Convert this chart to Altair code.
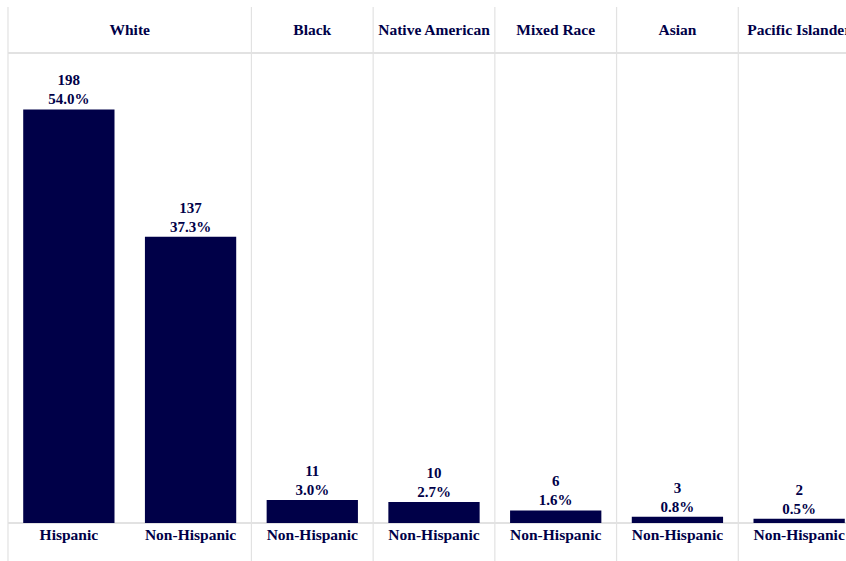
import altair as alt
import pandas as pd

races = ["White", "White", "Black", "Native American", "Mixed Race", "Asian", "Pacific Islander"]
ethnicities = ["Hispanic", "Non-Hispanic", "Non-Hispanic", "Non-Hispanic", "Non-Hispanic", "Non-Hispanic", "Non-Hispanic"]
counts = [198, 137, 11, 10, 6, 3, 2]
pct_labels = ["54.0%", "37.3%", "3.0%", "2.7%", "1.6%", "0.8%", "0.5%"]

NAVY = "#000048"
GRID = "#e2e2e2"
FONT = "Liberation Serif"

W_RANGE = 852  # full width of the 7 slots (last one runs past the window)
PLOT_W = 838
PLOT_H = 470

keys = [f"{r}|{e}" for r, e in zip(races, ethnicities)]
df = pd.DataFrame({
    "key": keys,
    "race": races,
    "eth": ethnicities,
    "count": counts,
    "pct": pct_labels,
})

# header table: each race spans as many slots as it has bars
race_order = []
for r in races:
    if r not in race_order:
        race_order.append(r)
starts, ends = [], []
pos = 0
for r in race_order:
    n = races.count(r)
    starts.append(pos)
    ends.append(pos + n)
    pos += n
head = pd.DataFrame({"race": race_order, "start": starts, "end": ends})
head["center"] = (head["start"] + head["end"]) / 2

band_scale = alt.Scale(range=[0, W_RANGE], paddingInner=0.25, paddingOuter=0.125)
xband = alt.X("key:N", sort=keys, scale=band_scale,
              axis=alt.Axis(title=None, labelExpr="split(datum.label, '|')[1]", labelAngle=0,
                            labelFont=FONT, labelFontWeight="bold", labelFontSize=15.5, labelColor=NAVY,
                            labelPadding=4, domain=False, ticks=False, grid=False))
yq = alt.Y("count:Q", scale=alt.Scale(domain=[0, 225], nice=False), axis=None)

base = alt.Chart(df)
bars = base.mark_bar(color=NAVY).encode(x=xband, y=yq)
txt = dict(baseline="bottom", font=FONT, fontWeight="bold", fontSize=15, color=NAVY)
cnt_text = base.mark_text(dy=-21, **txt).encode(
    x=alt.X("key:N", sort=keys), y=yq, text="count:Q")
pct_text = base.mark_text(dy=-2, **txt).encode(
    x=alt.X("key:N", sort=keys), y=yq, text="pct:N")
data_layer = alt.layer(bars, cnt_text, pct_text)

xq = alt.Scale(domain=[0, 7], range=[0, W_RANGE])
vlines = alt.Chart(head).mark_rule(color=GRID, strokeWidth=1.2).encode(
    x=alt.X("start:Q", scale=xq, axis=None), y=alt.value(-46), y2=alt.value(PLOT_H + 38))
headers = alt.Chart(head).mark_text(baseline="middle", font=FONT, fontWeight="bold", fontSize=15.5, color=NAVY).encode(
    x=alt.X("center:Q", scale=xq, axis=None), y=alt.value(-23), text="race:N")
hline_top = alt.Chart(head).mark_rule(color=GRID, strokeWidth=1.2).encode(
    x=alt.value(0), x2=alt.value(W_RANGE), y=alt.value(0))
hline_base = alt.Chart(head).mark_rule(color=GRID, strokeWidth=1.2).encode(
    x=alt.value(0), x2=alt.value(W_RANGE), y=alt.value(PLOT_H))
frame_layer = alt.layer(vlines, headers, hline_top, hline_base)

chart = alt.layer(frame_layer, data_layer).resolve_scale(x="independent").properties(
    width=PLOT_W, height=PLOT_H,
    autosize=alt.AutoSizeParams(type="none"),
    padding={"left": 8, "top": 53, "right": 0, "bottom": 38},
).configure_view(stroke=None)

chart.save("out.html", embed_options={"renderer": "svg", "actions": False})
